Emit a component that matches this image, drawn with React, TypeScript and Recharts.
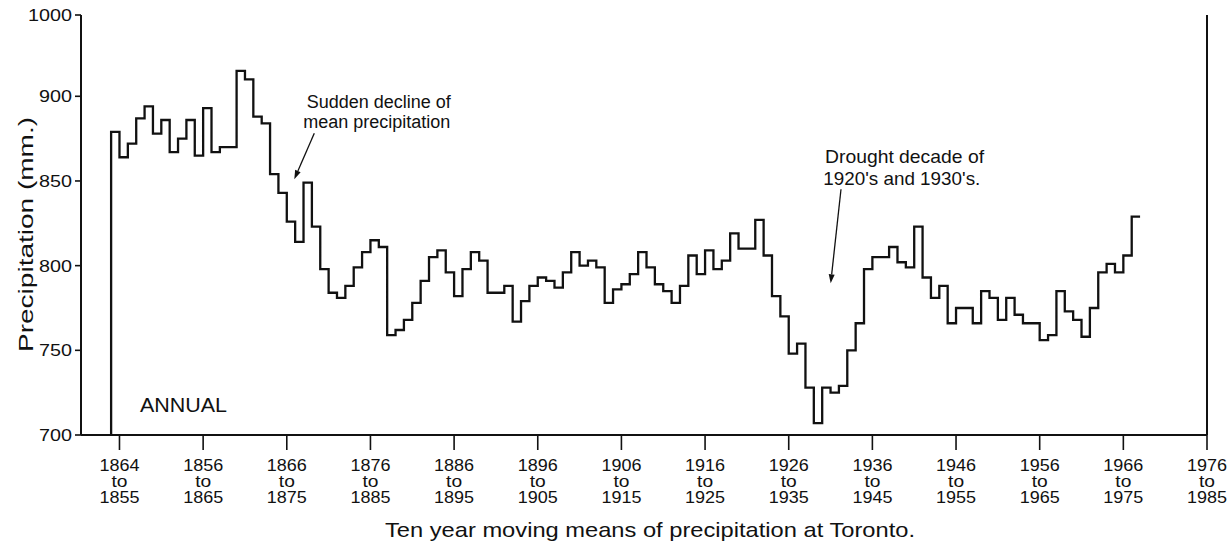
import React from "react";
import { LineChart, Line, XAxis, YAxis } from "recharts";

// Ten year moving means of annual precipitation at Toronto (mm),
// one value per window, first window ends 1855, last ends 1977
const firstWindowEnd = 1855;
const precipitation = [
  879, 864, 872, 887, 894, 878, 886, 867, 875, 886,
  865, 893, 867, 870, 870, 915, 910, 888, 884, 854,
  843, 826, 814, 849, 823, 798, 784, 781, 788, 799,
  808, 815, 811, 759, 762, 768, 778, 791, 805, 809,
  796, 782, 798, 808, 803, 784, 784, 788, 767, 779,
  788, 793, 791, 787, 796, 808, 800, 803, 799, 778,
  786, 789, 795, 808, 799, 789, 785, 778, 788, 806,
  795, 809, 798, 803, 819, 810, 810, 827, 806, 782,
  770, 748, 754, 728, 707, 728, 725, 729, 750, 766,
  798, 805, 805, 811, 802, 799, 823, 793, 781, 788,
  766, 775, 775, 766, 785, 781, 768, 781, 771, 766,
  766, 756, 759, 785, 773, 768, 758, 775, 796, 801,
  796, 806, 829,
];

const xTicks = [1855, 1865, 1875, 1885, 1895, 1905, 1915, 1925, 1935, 1945, 1955, 1965, 1975, 1985];
const xTickFrom = ["1864", "1856", "1866", "1876", "1886", "1896", "1906", "1916", "1926", "1936", "1946", "1956", "1966", "1976"];
const xTickTo = ["1855", "1865", "1875", "1885", "1895", "1905", "1915", "1925", "1935", "1945", "1955", "1965", "1975", "1985"];

// the printed axis is broken above 900, top mark reads 1000
const yTicks = [700, 750, 800, 850, 900, 948];
const yTickLabels = ["700", "750", "800", "850", "900", "1000"];
const rightTicks = [750, 800, 850, 900, 940];

const FONT = "'Liberation Sans', Arial, Helvetica, sans-serif";
const INK = "#111";

// step table: each window drawn as one year wide step, rising from the axis floor
const floor = yTicks[0];
const data = [
  { x: firstWindowEnd - 1, v: floor },
  ...precipitation.map((v, i) => ({ x: firstWindowEnd - 1 + i, v })),
  { x: firstWindowEnd + precipitation.length - 1, v: precipitation[precipitation.length - 1] },
];

const XTick = (props: any) => {
  const { x, y, payload } = props;
  const i = xTicks.indexOf(payload.value);
  const common = { textAnchor: "middle" as const, fill: INK, fontFamily: FONT, fontSize: 16 };
  return (
    <g transform={`translate(${x},${y})`}>
      <text x={0} y={19} {...common} textLength={40} lengthAdjust="spacingAndGlyphs">{xTickFrom[i]}</text>
      <text x={0} y={35} {...common} textLength={16} lengthAdjust="spacingAndGlyphs">to</text>
      <text x={0} y={51} {...common} textLength={40} lengthAdjust="spacingAndGlyphs">{xTickTo[i]}</text>
    </g>
  );
};

const YTick = (props: any) => {
  const { x, y, payload } = props;
  const label = yTickLabels[yTicks.indexOf(payload.value)];
  return (
    <text x={x} y={y + 6} textAnchor="end" fill={INK} fontFamily={FONT} fontSize={17}
      textLength={label.length * 11} lengthAdjust="spacingAndGlyphs">
      {label}
    </text>
  );
};

function Arrow({ x1, y1, x2, y2 }: { x1: number; y1: number; x2: number; y2: number }) {
  const dx = x2 - x1;
  const dy = y2 - y1;
  const len = Math.hypot(dx, dy);
  const ux = dx / len;
  const uy = dy / len;
  const hx = x2 - ux * 9;
  const hy = y2 - uy * 9;
  const pts = `${x2},${y2} ${hx - uy * 3},${hy + ux * 3} ${hx + uy * 3},${hy - ux * 3}`;
  return (
    <g>
      <line x1={x1} y1={y1} x2={hx} y2={hy} stroke={INK} strokeWidth={1.3} />
      <polygon points={pts} fill={INK} />
    </g>
  );
}

export default function App() {
  return (
    <div style={{ position: "absolute", left: 0, top: 0, width: 1232, height: 556, background: "#fff" }}>
      <LineChart width={1232} height={556} data={data} margin={{ top: 15, right: 0, bottom: 0, left: 0 }}>
        <XAxis
          dataKey="x"
          type="number"
          domain={[1850.4, 1985]}
          ticks={xTicks}
          interval={0}
          height={121}
          tickSize={15}
          tickMargin={2}
          axisLine={{ stroke: INK, strokeWidth: 2 }}
          tickLine={{ stroke: INK, strokeWidth: 1.6 }}
          tick={<XTick />}
        />
        <YAxis
          type="number"
          domain={[700, 948]}
          ticks={yTicks}
          interval={0}
          width={81}
          tickSize={6}
          tickMargin={3}
          axisLine={{ stroke: INK, strokeWidth: 2 }}
          tickLine={{ stroke: INK, strokeWidth: 1.6 }}
          tick={<YTick />}
        />
        <YAxis
          yAxisId="r"
          orientation="right"
          type="number"
          domain={[695.9, 943.9]}
          ticks={rightTicks}
          interval={0}
          width={25}
          tickSize={7}
          axisLine={{ stroke: INK, strokeWidth: 2 }}
          tickLine={{ stroke: INK, strokeWidth: 1.6 }}
          tick={false}
        />
        <Line
          type="stepAfter"
          dataKey="v"
          stroke={INK}
          strokeWidth={2.3}
          dot={false}
          isAnimationActive={false}
        />
      </LineChart>

      <svg width={1232} height={556} style={{ position: "absolute", left: 0, top: 0, pointerEvents: "none" }}>
        <g fill={INK} fontFamily={FONT}>
          <text transform="translate(33,234.5) rotate(-90)" textAnchor="middle" fontSize={20}
            textLength={235} lengthAdjust="spacingAndGlyphs">
            Precipitation (mm.)
          </text>
          <text x={140} y={411.7} fontSize={21} textLength={87} lengthAdjust="spacingAndGlyphs">ANNUAL</text>
          <text x={306.7} y={108.3} fontSize={18}>Sudden decline of</text>
          <text x={303.3} y={128.3} fontSize={18}>mean precipitation</text>
          <text x={825} y={162.7} fontSize={18.5} textLength={159} lengthAdjust="spacingAndGlyphs">Drought decade of</text>
          <text x={823.3} y={185} fontSize={18.5} textLength={157} lengthAdjust="spacingAndGlyphs">1920's and 1930's.</text>
          <text x={650} y={537} textAnchor="middle" fontSize={21} textLength={530} lengthAdjust="spacingAndGlyphs">
            Ten year moving means of precipitation at Toronto.
          </text>
        </g>
        <Arrow x1={314.3} y1={133.3} x2={294.3} y2={179.3} />
        <Arrow x1={841} y1={189.3} x2={830.7} y2={283.3} />
      </svg>
    </div>
  );
}
